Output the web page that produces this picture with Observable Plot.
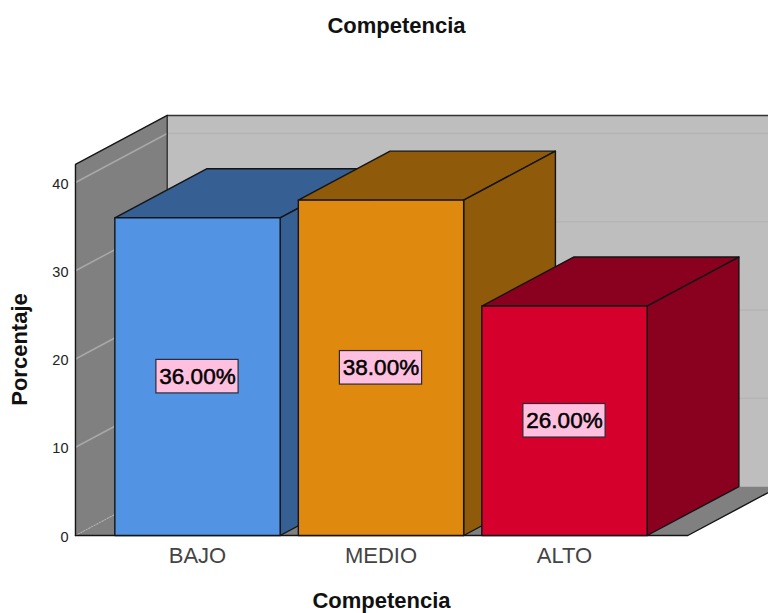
<!DOCTYPE html>
<html>
<head>
<meta charset="utf-8">
<script src="https://cdn.jsdelivr.net/npm/d3@7"></script>
<script src="https://cdn.jsdelivr.net/npm/@observablehq/plot@0.6"></script>
<style>
  html, body { margin: 0; background: #fff; }
  svg { display: block; }
</style>
</head>
<body>
<script>
// Competencia: percentage of cases per level
const categories = ["BAJO", "MEDIO", "ALTO"];
const percentages = [36, 38, 26];
const frontColors = ["#5294E3", "#DF890E", "#D6002D"];
const sideColors = ["#365F94", "#8F5A09", "#8A001F"];
const yTicks = [0, 10, 20, 30, 40];

// Oblique box geometry, in scale units (x: category index, y: percent)
const halfBar = 0.4505;
const depthX = 0.5;
const depthY = 5.55;
const wallLeft = -0.665;
const floorRight = 2.672;
const wallTop = 42.05;

const pts = (...coords) => coords.map(([x, y]) => ({x, y}));
const polyline = (coords, stroke, strokeWidth, extra = {}) =>
  Plot.line(pts(...coords), {x: "x", y: "y", stroke, strokeWidth, ...extra});
const face = (coords, fill, stroke = "#141414", strokeWidth = 1.4) =>
  Plot.line(pts(...coords, coords[0]), {x: "x", y: "y", fill, stroke, strokeWidth});
const area = (coords, fill) =>
  Plot.line(pts(...coords, coords[0]), {x: "x", y: "y", fill, stroke: "none"});

// Each bar is a top, a side and a front face, painted left to right
const barFaces = categories.flatMap((c, i) => {
  const v = percentages[i];
  const l = i - halfBar, r = i + halfBar;
  return [
    face([[l, v], [r, v], [r + depthX, v + depthY], [l + depthX, v + depthY]], sideColors[i]),
    face([[r, 0], [r + depthX, depthY], [r + depthX, v + depthY], [r, v]], sideColors[i]),
    face([[l, 0], [r, 0], [r, v], [l, v]], frontColors[i])
  ];
});

const labelBoxes = Plot.rect(percentages.map((v, i) => ({i, v})), {
  x1: (d) => d.i - 0.224,
  x2: (d) => d.i + 0.224,
  y1: (d) => d.v / 2 - 1.9,
  y2: (d) => d.v / 2 + 1.9,
  fill: "#FFBFDF",
  stroke: "#2b2b35",
  strokeWidth: 1.2
});

const backRight = floorRight + depthX + 0.2;

const chart = Plot.plot({
  width: 768,
  height: 613,
  marginLeft: 75,
  marginRight: 0,
  marginTop: 0,
  marginBottom: 78,
  style: {fontFamily: "'Liberation Sans', Arial, sans-serif", background: "#fff"},
  x: {domain: [0, 2], range: [197, 564]},
  y: {domain: [0, 40], range: [535, 182]},
  marks: [
    // Back wall, left wall and floor
    area([[wallLeft + depthX, depthY], [backRight, depthY], [backRight, wallTop + depthY], [wallLeft + depthX, wallTop + depthY]], "#BEBEBE"),
    area([[wallLeft, 0], [wallLeft + depthX, depthY], [wallLeft + depthX, wallTop + depthY], [wallLeft, wallTop]], "#808080"),
    area([[wallLeft, 0], [floorRight, 0], [floorRight + depthX, depthY], [wallLeft + depthX, depthY]], "#808080"),

    // Gridlines on the back and left walls
    ...yTicks.filter((t) => t > 0).flatMap((t) => [
      polyline([[wallLeft + depthX, t + depthY], [backRight, t + depthY]], "#B5B5B5", 1.5),
      polyline([[wallLeft, t], [wallLeft + depthX, t + depthY]], "#A8A8A8", 1.5)
    ]),
    polyline([[wallLeft, 0], [wallLeft + depthX, depthY]], "#B5B5B5", 1.1, {strokeDasharray: "1.5 1.5", strokeLinecap: "butt"}),

    // Wall and floor outlines
    polyline([[wallLeft + depthX, depthY], [wallLeft + depthX, wallTop + depthY], [backRight, wallTop + depthY]], "#333", 1.4),
    polyline([[wallLeft, 0], [wallLeft, wallTop], [wallLeft + depthX, wallTop + depthY]], "#141414", 1.4),
    polyline([[wallLeft, 0], [floorRight, 0], [floorRight + depthX, depthY]], "#141414", 1.4),

    ...barFaces,

    // Value labels in their boxes
    labelBoxes,
    Plot.text(percentages, {
      x: (d, i) => i,
      y: (d) => d / 2,
      text: (d) => d.toFixed(2) + "%",
      fontSize: 22.5,
      fill: "#000",
      stroke: "#000",
      strokeWidth: 0.5
    }),

    // Axes
    Plot.axisY({ticks: yTicks, tickSize: 0, tickPadding: 7, label: null, fontSize: 14.5, color: "#222", dy: 1.5}),
    Plot.axisX({
      ticks: [0, 1, 2],
      tickFormat: (d) => categories[d],
      tickSize: 0,
      tickPadding: 12,
      label: null,
      fontSize: 22,
      color: "#444"
    }),

    // Chart title and axis titles
    Plot.text(["Competencia"], {frameAnchor: "top", dx: -25.5, dy: 25.5, fontSize: 22, fontWeight: "bold", fill: "#111", lineAnchor: "middle"}),
    Plot.text(["Competencia"], {frameAnchor: "bottom", dx: -40.5, dy: 65.5, fontSize: 22, fontWeight: "bold", fill: "#111", lineAnchor: "middle"}),
    Plot.text(["Porcentaje"], {frameAnchor: "left", dx: -55.5, dy: 81.5, rotate: -90, textAnchor: "middle", fontSize: 22, fontWeight: "bold", fill: "#111"})
  ]
});

document.body.appendChild(chart);
</script>
</body>
</html>
